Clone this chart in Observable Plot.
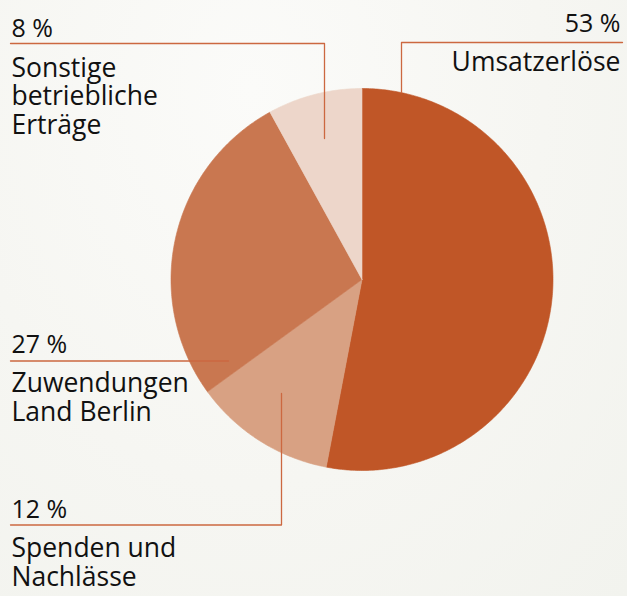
<!DOCTYPE html>
<html>
<head>
<meta charset="utf-8">
<script src="https://cdn.jsdelivr.net/npm/d3@7"></script>
<script src="https://cdn.jsdelivr.net/npm/@observablehq/plot@0.6"></script>
<style>
  html, body { margin: 0; padding: 0; }
  body { width: 627px; height: 596px; overflow: hidden;
         background: radial-gradient(ellipse at 40% 15%, #fbfbf9 0%, #f6f6f2 55%, #f2f3ee 100%); }
  svg { display: block; background: transparent !important; }
</style>
</head>
<body>
<div id="chart"></div>
<script>
// Data
const categories = ["Umsatzerlöse", "Spenden und\nNachlässe", "Zuwendungen\nLand Berlin", "Sonstige\nbetriebliche\nErträge"];
const values = [53, 12, 27, 8];
const percentLabels = ["53 %", "12 %", "27 %", "8 %"];
const colors = ["#c05627", "#d8a183", "#c97750", "#edd6ca"];

// Layout (pixels)
const W = 627, H = 596;
const cx = 361.5, cy = 279, r = 191;
const lineColor = "#cc6840";
const layout = [
  {pctX: 620, pctY: 31, side: "end", labX: 620, labY: 70,
   leader: [[622, 42], [401, 42], [401, 92]]},
  {pctX: 11, pctY: 517, side: "start", labX: 11, labY: 585,
   leader: [[10, 524.5], [281, 524.5], [281, 393]]},
  {pctX: 11, pctY: 352, side: "start", labX: 11, labY: 420,
   leader: [[10, 360.5], [228, 360.5]]},
  {pctX: 11, pctY: 36, side: "start", labX: 11, labY: 133,
   leader: [[10, 43], [324, 43], [324, 138]]}
];

const table = categories.map((c, i) => ({category: c, value: values[i], pct: percentLabels[i], color: colors[i], ...layout[i]}));

// Pie geometry from values
const arcs = d3.pie().sort(null).value(d => d.value).startAngle(0).endAngle(2 * Math.PI)(table);
const slicePts = [];
arcs.forEach((a, i) => {
  slicePts.push({i, x: cx, y: cy});
  const n = Math.max(2, Math.ceil((a.endAngle - a.startAngle) / 0.01));
  for (let k = 0; k <= n; k++) {
    const t = a.startAngle + (a.endAngle - a.startAngle) * k / n;
    slicePts.push({i, x: cx + r * Math.sin(t), y: cy - r * Math.cos(t)});
  }
  slicePts.push({i, x: cx, y: cy});
});

const leaderPts = [];
table.forEach((d, i) => d.leader.forEach(([x, y]) => leaderPts.push({i, x, y})));

const font = "'Open Sans', 'Noto Sans', sans-serif";
const textMarks = ["start", "end"].flatMap(side => {
  const rows = table.filter(d => d.side === side);
  return [
    Plot.text(rows, {x: "pctX", y: "pctY", text: "pct", textAnchor: side, lineAnchor: "bottom",
      fontSize: 25, fill: "#111", fontFamily: font}),
    Plot.text(rows, {x: "labX", y: "labY", text: "category", textAnchor: side, lineAnchor: "bottom",
      lineHeight: 1.06, fontSize: 26.5, fill: "#111", fontFamily: font})
  ];
});

const chart = Plot.plot({
  width: W, height: H,
  margin: 0,
  x: {domain: [0, W], range: [0, W], axis: null},
  y: {domain: [0, H], range: [0, H], axis: null},
  style: {background: "transparent", fontFamily: font},
  marks: [
    Plot.line(slicePts, {x: "x", y: "y", z: "i", fill: d => colors[d.i], stroke: d => colors[d.i], strokeWidth: 0.6, curve: "linear"}),
    Plot.line(leaderPts, {x: "x", y: "y", z: "i", stroke: lineColor, strokeWidth: 1.3}),
    ...textMarks
  ]
});
document.getElementById("chart").appendChild(chart);
</script>
</body>
</html>
